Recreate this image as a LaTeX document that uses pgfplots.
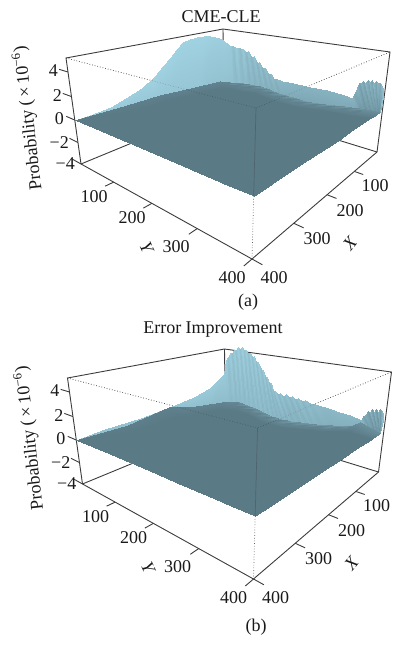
\documentclass[border=0pt]{standalone}
\usepackage{fontspec}
\setmainfont{Liberation Serif}
\usepackage{pgfplots}
\usepackage{pgfplotstable}
\pgfplotsset{compat=1.18}
\definecolor{frm}{RGB}{60,60,60}
\pgfplotstableread{
X Y Z c
400 0 0 .8
370 0 .03 .85
324 0 .15 .85
288 0 .53 .85
248 0 1.02 .85
212 0 1.86 .88
190 0 2.6 .88
168 0 3.29 .88
148 0 4.0 .88
130 0 4.52 .88
108 0 4.7 .88
87 0 4.75 .88
65 0 4.72 .88
44 0 4.58 .86
16 0 4.2 .84
0 0 3.84 .84
0 20 3.37 .8
0 30 3.4 .68
0 40 3.3 .8
0 50 3.35 .66
0 60 3.3 .78
0 68 3.0 .62
0 76 3.15 .74
0 84 2.6 .6
0 92 2.7 .72
0 100 2.0 .58
0 108 2.15 .7
0 116 1.6 .56
0 124 1.7 .68
0 132 1.1 .56
0 140 1.2 .66
0 148 .7 .54
0 156 .75 .62
0 170 .65 .6
0 200 .7 .58
0 240 .7 .56
0 280 .7 .56
0 320 .6 .56
0 336 .55 .56
0 340 .9 .45
0 344 1.5 .55
0 348 2.05 .4
0 352 2.1 .55
0 356 2.3 .42
0 360 2.15 .6
0 364 2.45 .42
0 368 2.3 .6
0 372 2.5 .42
0 376 2.3 .6
0 380 2.45 .45
0 384 2.3 .6
0 388 2.4 .5
0 392 2.2 .62
0 396 1.9 .7
0 398 1.2 .72
0 396 .56 .7
12 400 0 .65
400 0 0 .8
400 30 0 .75
354 30 0 .75
328 40 0 .75
298 50 0 .75
262 50 0 .75
240 50 0 .75
218 50 0 .75
198 50 0 .75
180 50 0 .75
158 50 0 .75
137 50 0 .75
115 50 0 .72
114 70 0 .7
86 70 0 .7
70 70 0 .7
70 90 0 .68
70 100 0 .62
70 110 0 .66
70 120 0 .6
70 130 0 .62
70 138 0 .54
70 146 0 .58
70 154 0 .52
70 162 0 .56
70 170 0 .5
70 178 0 .55
70 186 0 .48
70 194 0 .52
70 202 0 .48
70 210 0 .5
70 218 0 .45
70 226 0 .46
70 240 0 .45
70 270 0 .42
70 310 0 .42
70 350 0 .42
60 370 0 .4
50 380 0 .35
40 380 0 .25
40 384 0 .28
40 388 0 .22
40 392 0 .28
40 396 0 .22
40 400 0 .28
36 400 0 .22
32 400 0 .28
28 400 0 .22
24 400 0 .28
20 400 0 .22
18 400 0 .28
14 400 0 .25
12 400 0 .3
12 400 0 .4
12 400 0 .5
12 400 0 .5
12 400 0 .5
}\lightA
\pgfplotstableread{
X Y Z c
400 0 0 .02
292 6 0 .04
210 8 0 .06
124 24 0 .08
56 37 0 .1
46 60 0 .12
35 82 0 .15
25 137 0 .2
42 202 0 .22
46 257 0 .22
37 296 0 .2
26 333 0 .2
14 374 0 .22
12 400 0 .2
400 0 0 0
300 40 0 0
220 45 0 0
140 60 0 0
90 75 0 0
85 95 0 0
80 115 0 0
70 150 0 0
85 205 0 0
90 257 0 0
80 296 0 0
70 330 0 0
60 370 0 0
50 400 0 0
400 0 0 0
400 100 0 0
400 200 0 0
400 260 0 0
400 320 0 0
400 360 0 0
400 400 0 0
400 400 0 0
360 400 0 0
300 400 0 0
240 400 0 0
180 400 0 0
120 400 0 0
50 400 0 0
}\darkA
\pgfplotstableread{
X Y Z c
46 60 0 .3
39 74 0 .14
34 88 0 .3
31 102 0 .14
29 116 0 .3
26 130 0 .14
27 144 0 .32
30 158 0 .16
34 172 0 .32
38 186 0 .16
42 200 0 .32
43 214 0 .16
44 228 0 .32
45 242 0 .16
46 256 0 .32
43 270 0 .16
40 284 0 .32
37 298 0 .16
32 312 0 .32
28 326 0 .16
24 340 0 .3
20 354 0 .16
16 368 0 .3
56 60 0 .06
49 74 0 .2
44 88 0 .06
41 102 0 .2
39 116 0 .06
36 130 0 .22
37 144 0 .08
40 158 0 .22
44 172 0 .08
48 186 0 .22
52 200 0 .08
53 214 0 .22
54 228 0 .08
55 242 0 .22
56 256 0 .08
53 270 0 .22
50 284 0 .08
47 298 0 .22
42 312 0 .08
38 326 0 .22
34 340 0 .08
30 354 0 .2
26 368 0 .08
72 60 0 .05
65 74 0 .05
60 88 0 .05
57 102 0 .05
55 116 0 .05
52 130 0 .06
53 144 0 .07
56 158 0 .07
60 172 0 .07
64 186 0 .07
68 200 0 .07
69 214 0 .07
70 228 0 .07
71 242 0 .07
72 256 0 .07
69 270 0 .07
66 284 0 .07
63 298 0 .07
58 312 0 .07
54 326 0 .07
50 340 0 .06
46 354 0 .06
42 368 0 .06
}\speckA
\pgfplotstableread{
X Y Z c
400 0 0 .7
340 0 .22 .72
256 0 .2 .72
179 0 .4 .75
107 0 .7 .78
52 0 1.13 .8
4 0 2.37 .8
0 4 3.87 .82
0 10 4.3 .72
0 16 4.7 .82
0 22 4.8 .7
0 28 5.15 .82
0 34 5.2 .72
0 40 5.45 .85
0 46 5.35 .72
0 52 5.55 .85
0 58 5.3 .72
0 64 5.3 .82
0 70 5.0 .7
0 76 5.1 .82
0 82 4.7 .7
0 88 4.8 .82
0 94 4.2 .68
0 100 4.25 .8
0 106 3.6 .68
0 112 3.5 .8
0 118 2.9 .66
0 124 2.85 .78
0 130 2.2 .64
0 136 2.25 .76
0 142 1.55 .64
0 148 1.55 .76
0 154 1.25 .62
0 160 1.45 .74
0 168 1.2 .62
0 176 1.4 .72
0 184 1.2 .6
0 192 1.35 .72
0 200 1.1 .6
0 208 1.3 .72
0 216 1.1 .6
0 224 1.2 .7
0 236 1.05 .62
0 248 1.05 .66
0 264 .95 .62
0 280 .9 .62
0 304 .8 .62
0 328 .69 .62
0 352 .45 .6
0 356 .94 .4
0 360 1.0 .5
0 364 1.4 .35
0 368 1.35 .55
0 372 1.7 .35
0 376 1.45 .55
0 380 1.75 .35
0 384 1.5 .55
0 388 1.8 .4
0 392 1.69 .6
0 396 1.3 .7
0 394 .83 .7
18 400 0 .7
400 0 0 .7
370 30 0 .65
286 30 0 .65
209 30 0 .65
157 50 0 .65
102 50 0 .65
74 70 0 .65
70 74 0 .65
90 100 0 .6
90 106 0 .66
90 112 0 .58
90 118 0 .66
90 124 0 .58
90 130 0 .66
90 136 0 .58
90 142 0 .66
90 148 0 .58
90 154 0 .66
90 160 0 .58
90 166 0 .66
90 172 0 .58
90 178 0 .66
90 184 0 .56
90 190 0 .64
90 196 0 .56
90 202 0 .64
90 208 0 .54
90 214 0 .62
90 220 0 .52
90 226 0 .6
90 232 0 .5
90 238 0 .6
90 244 0 .5
90 250 0 .58
90 258 0 .5
90 266 0 .56
90 274 0 .5
90 282 0 .56
90 290 0 .5
90 298 0 .54
90 306 0 .5
90 314 0 .52
90 326 0 .48
90 338 0 .48
90 354 0 .46
90 370 0 .46
90 394 0 .44
72 400 0 .42
48 400 0 .35
44 400 0 .25
40 400 0 .28
36 400 0 .22
32 400 0 .28
28 400 0 .22
24 400 0 .28
20 400 0 .22
18 400 0 .28
18 400 0 .25
18 400 0 .3
18 400 0 .45
18 400 0 .5
18 400 0 .5
}\lightB
\pgfplotstableread{
X Y Z c
400 0 0 .02
292 6 0 .04
180 0 .4 .06
120 20 0 .08
56 40 0 .1
48 50 0 .12
35 72 0 .15
46 125 0 .2
69 192 0 .22
70 239 0 .22
54 276 0 .22
38 310 0 .2
17 338 0 .2
0 350 .25 .22
18 400 0 .2
400 0 0 0
300 40 0 0
190 40 0 0
140 60 0 0
100 75 0 0
92 90 0 0
85 110 0 0
90 140 0 0
110 195 0 0
110 240 0 0
95 276 0 0
80 310 0 0
60 335 0 0
50 355 0 0
55 400 0 0
400 0 0 0
400 100 0 0
400 200 0 0
400 260 0 0
400 320 0 0
400 360 0 0
400 400 0 0
400 400 0 0
360 400 0 0
300 400 0 0
240 400 0 0
180 400 0 0
120 400 0 0
80 400 0 0
55 400 0 0
}\darkB
\pgfplotstableread{
X Y Z c
35 72 0 .3
38 86 0 .14
41 100 0 .3
44 114 0 .14
47 128 0 .32
52 142 0 .16
57 156 0 .32
62 170 0 .16
67 184 0 .32
69 198 0 .16
70 212 0 .32
70 226 0 .16
69 240 0 .32
63 254 0 .16
57 268 0 .32
51 282 0 .16
45 296 0 .32
38 310 0 .16
28 324 0 .3
17 338 0 .16
45 72 0 .06
48 86 0 .2
51 100 0 .06
54 114 0 .2
57 128 0 .08
62 142 0 .22
67 156 0 .08
72 170 0 .22
77 184 0 .08
79 198 0 .22
80 212 0 .08
80 226 0 .22
79 240 0 .08
73 254 0 .22
67 268 0 .08
61 282 0 .22
55 296 0 .08
48 310 0 .22
38 324 0 .08
27 338 0 .2
61 72 0 .05
64 86 0 .05
67 100 0 .05
70 114 0 .05
73 128 0 .06
78 142 0 .07
83 156 0 .07
88 170 0 .07
93 184 0 .07
95 198 0 .07
96 212 0 .07
96 226 0 .07
95 240 0 .07
89 254 0 .07
83 268 0 .07
77 282 0 .07
71 296 0 .07
64 310 0 .07
54 324 0 .06
43 338 0 .06
}\speckB
\pgfkeys{/pgfplots/table/proj/.style={
  x expr={px(\thisrow{X},\thisrow{Y},\thisrow{Z})+\dx},
  y expr={py(\thisrow{X},\thisrow{Y},\thisrow{Z})+\dy},
  z expr=0}}
\pgfplotsset{
  panel/.style={
    scale only axis,width=400pt,height=322.5pt,
    xmin=0,xmax=400,ymin=0,ymax=322.5,zmin=-1,zmax=1,
    y dir=reverse,view={0}{90},hide axis,clip=false,
    colormap={sl}{rgb255(0)=(90,122,134) rgb255(1)=(170,222,238)},
    point meta min=0,point meta max=1,
    declare function={
      wp(\z)=((\z+4)/9.1)/(((\z+4)/9.1)+(1-(\z+4)/9.1)*1.107);
      fx(\u,\v)=(224-164.28*\u+71.8*\v)/(1-.2627*\u-.2154*\v);
      fy(\u,\v)=(105+15.9*\u+14.26*\v)/(1-.2627*\u-.2154*\v);
      tx(\u,\v)=(223-175.67*\u+77.5*\v)/(1-.2829*\u-.2295*\v);
      ty(\u,\v)=(29+12.59*\u+11.07*\v)/(1-.2829*\u-.2295*\v);
      px(\X,\Y,\Z)=fx(\X/400,\Y/400)+(tx(\X/400,\Y/400)-fx(\X/400,\Y/400))*wp(\Z);
      py(\X,\Y,\Z)=fy(\X/400,\Y/400)+(ty(\X/400,\Y/400)-fy(\X/400,\Y/400))*wp(\Z);
    },
  },
  frame/.style={draw=frm,line width=0.9pt,no marks,solid},
  dots/.style={draw=frm!80,line width=0.7pt,no marks,dotted},
}
\newcommand{\seg}[3]{\addplot3[#1] table[proj,row sep=\\]{X Y Z\\#2\\#3\\};}
\newcommand{\lab}[4][]{\node[font=\fontsize{18}{21}\selectfont,text=black!90,inner sep=0pt,#1] at (axis cs:#2,#3,0) {#4};}
\newcommand{\panel}[5]{%
  \addplot3[dots] table[proj,row sep=\\]{X Y Z\\400 0 5.1\\400 400 5.1\\0 400 5.1\\};
  \addplot3[frame] table[proj,row sep=\\]{X Y Z\\400 0 -4\\0 0 -4\\0 400 -4\\};
  \seg{frame}{0 0 -4}{0 0 5.1}
  \addplot3[frame] table[proj,row sep=\\]{X Y Z\\400 0 -4\\400 0 5.1\\0 0 5.1\\0 400 5.1\\0 400 -4\\400 400 -4\\400 0 -4\\};
  \seg{dots}{400 400 -4}{400 400 0}
  \addplot3[surf,shader=interp,z buffer=none,mesh/rows=2,point meta=\thisrow{c}] table[proj]{#1};
  \addplot3[surf,shader=interp,z buffer=none,mesh/rows=3,point meta=\thisrow{c}] table[proj]{#2};
  \addplot3[surf,shader=interp,z buffer=none,mesh/rows=3,point meta=\thisrow{c}] table[proj]{#3};
  \addplot3[draw=black,opacity=.22,line width=0.7pt,no marks,dotted] table[proj,row sep=\\]{X Y Z\\400 0 5.1\\400 400 5.1\\0 400 5.1\\};
  \seg{draw=frm,opacity=.35,line width=0.7pt,no marks}{400 400 0}{400 400 5.1}
  \foreach \t in {-4,-2,0,2,4}{\edef\tmp{\noexpand\seg{frame}{400 0 \t}{400 -28 \t}}\tmp}
  \foreach \t in {100,200,300,400}{\edef\tmp{\noexpand\seg{frame}{400 \t\space -4}{417 \t\space -4}}\tmp
    \edef\tmp{\noexpand\seg{frame}{\t\space 400 -4}{\t\space 417 -4}}\tmp}
  \lab[anchor=east]{58+#4}{71+#5}{4}
  \lab[anchor=east]{62+#4}{96+#5}{2}
  \lab[anchor=east]{64+#4}{119+#5}{0}
  \lab[anchor=east]{69+#4}{143+#5}{−2}
  \lab[anchor=east]{75+#4}{164+#5}{−4}
  \lab{94+#4}{197+#5}{100}
  \lab{132+#4}{218+#5}{200}
  \lab{176+#4}{247+#5}{300}
  \lab{232+#4}{278+#5}{400}
  \lab{375+#4}{186+#5}{100}
  \lab{350+#4}{211+#5}{200}
  \lab{317+#4}{239+#5}{300}
  \lab{274+#4}{278+#5}{400}
  \lab[rotate=-65]{147+#4}{248+#5}{\textit{Y}}
  \lab[rotate=50]{350+#4}{243+#5}{\textit{X}}
  \lab[rotate=96.5]{28+#4}{118+#5}{Probability (\,×\,10\textsuperscript{−6})}
}
\begin{document}
\begin{tikzpicture}[x=1pt,y=1pt]
\def\dx{0}\def\dy{0}
\begin{axis}[panel,at={(0pt,0pt)},anchor=south west]
\panel{\lightA}{\darkA}{\speckA}{0}{0}
\lab{221}{17}{CME-CLE}
\lab{248}{302}{(a)}
\end{axis}
\def\dx{1.5}\def\dy{-2.5}
\begin{axis}[panel,at={(0pt,-322.5pt)},anchor=south west]
\panel{\lightB}{\darkB}{\speckB}{1.5}{-2.5}
\lab{213}{7.5}{Error Improvement}
\lab{256}{304.5}{(b)}
\end{axis}
\useasboundingbox (0pt,-322.5pt) rectangle (400pt,322.5pt);
\end{tikzpicture}
\end{document}
